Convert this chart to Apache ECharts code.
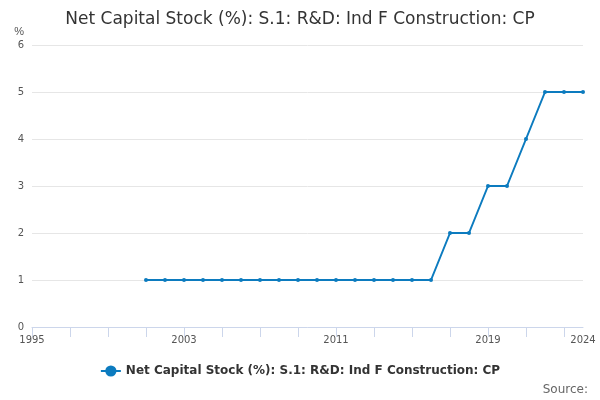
<!DOCTYPE html>
<html>
<head>
<meta charset="utf-8">
<script src="https://cdn.jsdelivr.net/npm/echarts@6/dist/echarts.min.js"></script>
<style>html,body{margin:0;padding:0;}#main{width:600px;height:400px;}</style>
</head>
<body>
<div id="main"></div>
<script>
var years = [];
for (var y = 1995; y <= 2024; y++) years.push(String(y));
var values = [null, null, null, null, null, null,
    1, 1, 1, 1, 1, 1, 1, 1, 1, 1, 1, 1, 1, 1, 1, 1,
    2, 2, 3, 3, 4, 5, 5, 5];
var shownLabels = ['1995', '2003', '2011', '2019', '2024'];
var seriesName = 'Net Capital Stock (%): S.1: R&D: Ind F Construction: CP';

var chart = echarts.init(document.getElementById('main'));
chart.setOption({
    title: { text: 'Net Capital Stock (%): S.1: R&D: Ind F Construction: CP', left: 'center', top: 6,
        textStyle: { fontFamily: 'DejaVu Sans', fontWeight: 'normal', fontSize: 17, color: '#333' } },
    grid: { left: 32, right: 17, top: 45, bottom: 73 },
    xAxis: {
        type: 'category', data: years, boundaryGap: false,
        axisLine: { lineStyle: { color: '#ccd6eb' } },
        axisTick: { interval: 1, lineStyle: { color: '#ccd6eb' }, length: 10 },
        axisLabel: { color: '#555', fontSize: 10, fontFamily: 'DejaVu Sans',
            interval: function (i, v) { return shownLabels.indexOf(v) >= 0; } }
    },
    yAxis: {
        type: 'value', min: 0, max: 6, interval: 1, name: '%',
        nameLocation: 'end', nameGap: 8,
        nameTextStyle: { color: '#555', fontSize: 11, align: 'right', padding: [0, 8, 0, 0] },
        axisLabel: { color: '#555', fontSize: 10, fontFamily: 'DejaVu Sans' },
        splitLine: { lineStyle: { color: '#e6e6e6' } }
    },
    legend: { bottom: 18, left: 'center', itemWidth: 20,
        textStyle: { fontFamily: 'DejaVu Sans', fontWeight: 'bold', fontSize: 12, color: '#333' } },
    graphic: [{ type: 'text', right: 12, bottom: 4,
        style: { text: 'Source:', fill: '#666', fontSize: 12, fontFamily: 'DejaVu Sans' } }],
    series: [{
        name: seriesName, type: 'line', data: values,
        symbol: 'circle', symbolSize: 4,
        itemStyle: { color: '#0c7bbf' }, lineStyle: { width: 2, color: '#0c7bbf' }
    }]
});
</script>
</body>
</html>
